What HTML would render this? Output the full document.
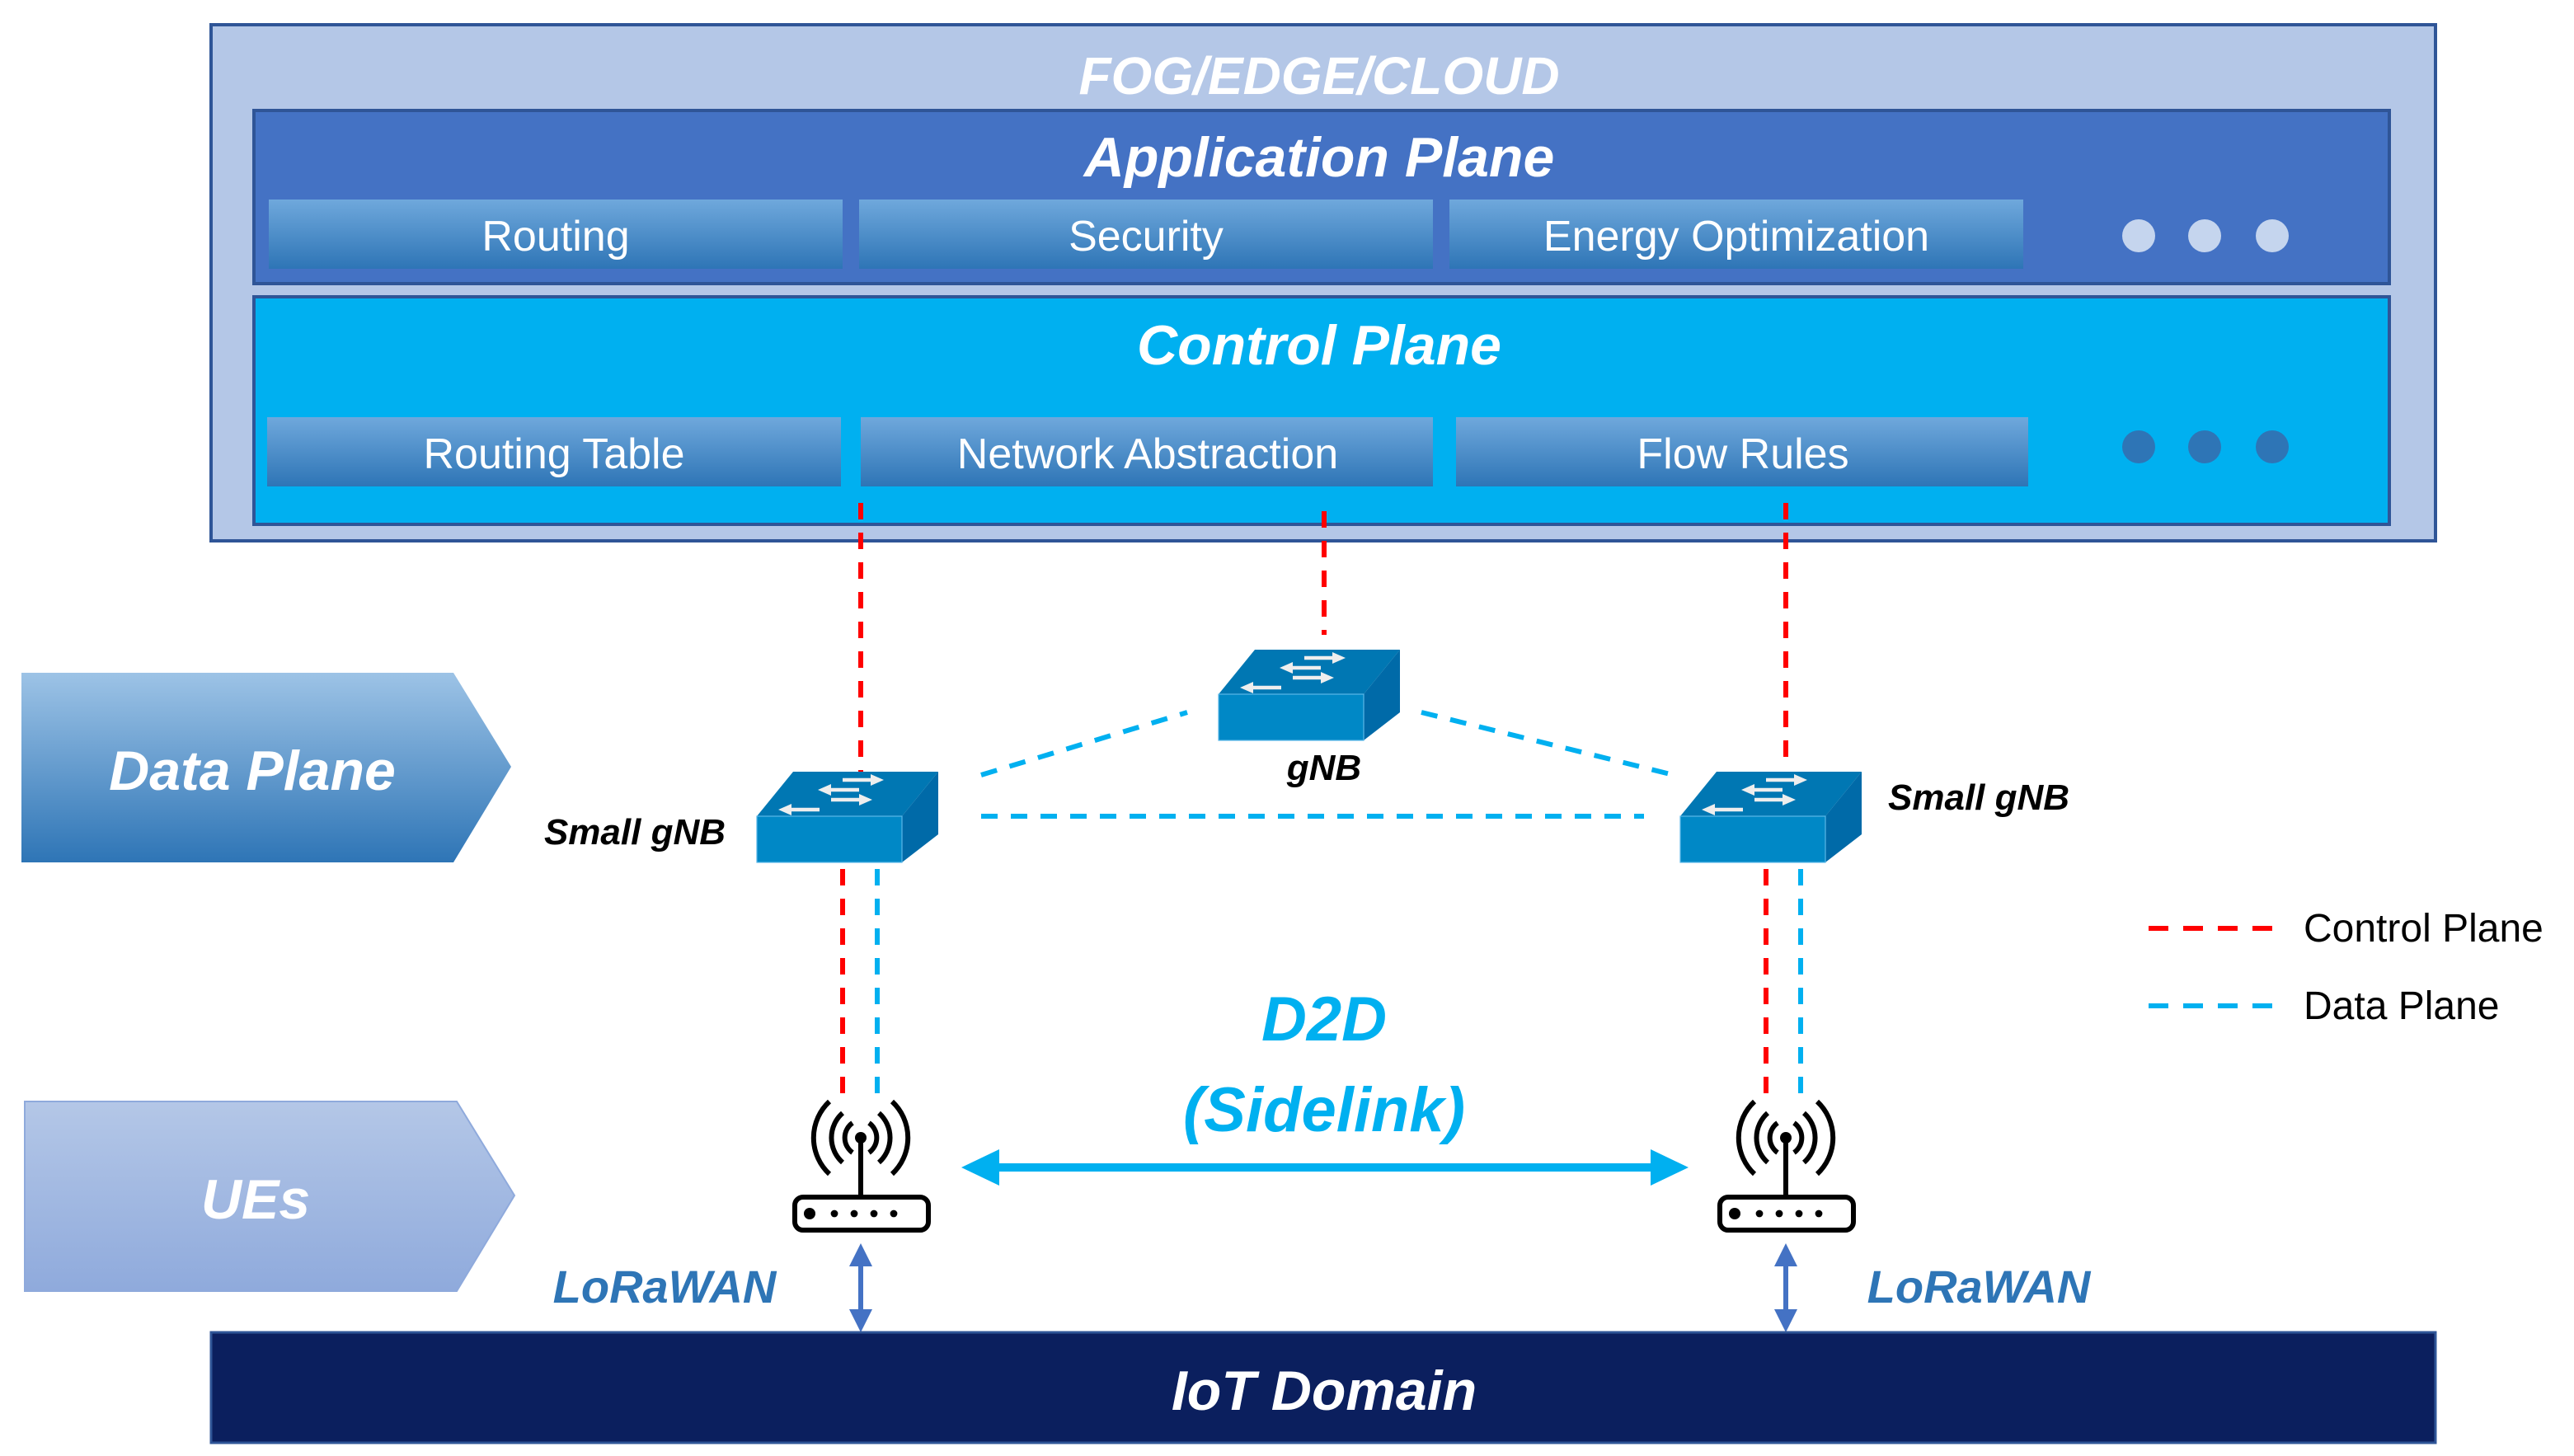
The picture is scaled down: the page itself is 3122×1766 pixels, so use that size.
<!DOCTYPE html>
<html><head><meta charset="utf-8"><style>html,body{margin:0;padding:0;background:#fff}svg{display:block}</style></head>
<body>
<svg width="3122" height="1766" viewBox="0 0 1561 883" xmlns="http://www.w3.org/2000/svg" font-family="Liberation Sans, sans-serif">
<defs>
<linearGradient id="btn" x1="0" y1="0" x2="0" y2="1"><stop offset="0" stop-color="#6fa8dc"/><stop offset="1" stop-color="#2e75b6"/></linearGradient>
<linearGradient id="dp" x1="0" y1="0" x2="0" y2="1"><stop offset="0" stop-color="#9dc3e6"/><stop offset="1" stop-color="#2e75b6"/></linearGradient>
<linearGradient id="ue" x1="0" y1="0" x2="0" y2="1"><stop offset="0" stop-color="#b4c7e7"/><stop offset="1" stop-color="#8faadc"/></linearGradient>
<g id="sw">
<polygon points="0,27 22,0 110,0 88,27" fill="#0077b3"/>
<polygon points="88,27 110,0 110,38 88,55" fill="#006aa8"/>
<rect x="0" y="27" width="88" height="28" fill="#0088c6" stroke="#5bb8e8" stroke-width="0.6"/>
<g stroke="#eee" stroke-width="2.2">
<line x1="52" y1="5" x2="70" y2="5"/><line x1="44" y1="11" x2="62" y2="11"/><line x1="45" y1="17" x2="63" y2="17"/><line x1="20" y1="23" x2="38" y2="23"/>
</g>
<g fill="#eee">
<polygon points="77,5 69,1.5 69,8.5"/><polygon points="37,11 45,7.5 45,14.5"/><polygon points="70,17 62,13.5 62,20.5"/><polygon points="13,23 21,19.5 21,26.5"/>
</g>
</g>
<g id="rt" fill="none" stroke="#000" stroke-width="3">
<circle cx="0" cy="0" r="3.5" fill="#000" stroke="none"/>
<line x1="0" y1="0" x2="0" y2="35"/>
<path d="M-19,-22 a30,30 0 0 0 0,44 M19,-22 a30,30 0 0 1 0,44"/>
<path d="M-11,-15 a20,20 0 0 0 0,30 M11,-15 a20,20 0 0 1 0,30"/>
<path d="M-5,-9 a11,11 0 0 0 0,18 M5,-9 a11,11 0 0 1 0,18"/>
<rect x="-40" y="36" width="81" height="20" rx="5"/>
<g fill="#000" stroke="none"><circle cx="-31" cy="46" r="3.5"/><circle cx="-16" cy="46" r="2.2"/><circle cx="-4" cy="46" r="2.2"/><circle cx="8" cy="46" r="2.2"/><circle cx="20" cy="46" r="2.2"/></g>
</g>
</defs>
<rect x="128" y="15" width="1349" height="313" fill="#b4c7e7" stroke="#2f5597" stroke-width="2"/>
<text x="800" y="57" text-anchor="middle" font-size="32" font-weight="bold" font-style="italic" fill="#fff">FOG/EDGE/CLOUD</text>
<rect x="154" y="67" width="1295" height="105" fill="#4472c4" stroke="#2f5597" stroke-width="2"/>
<text x="800" y="107" text-anchor="middle" font-size="34" font-weight="bold" font-style="italic" fill="#fff">Application Plane</text>
<g font-size="26" fill="#fff" text-anchor="middle">
<rect x="163" y="121" width="348" height="42" fill="url(#btn)"/><text x="337" y="152">Routing</text>
<rect x="521" y="121" width="348" height="42" fill="url(#btn)"/><text x="695" y="152">Security</text>
<rect x="879" y="121" width="348" height="42" fill="url(#btn)"/><text x="1053" y="152">Energy Optimization</text>
</g>
<g fill="#c5d5ee"><circle cx="1297" cy="143" r="10"/><circle cx="1337" cy="143" r="10"/><circle cx="1378" cy="143" r="10"/></g>
<rect x="154" y="180" width="1295" height="138" fill="#00b0f0" stroke="#2f5597" stroke-width="2"/>
<text x="800" y="221" text-anchor="middle" font-size="34" font-weight="bold" font-style="italic" fill="#fff">Control Plane</text>
<g font-size="26" fill="#fff" text-anchor="middle">
<rect x="162" y="253" width="348" height="42" fill="url(#btn)"/><text x="336" y="284">Routing Table</text>
<rect x="522" y="253" width="347" height="42" fill="url(#btn)"/><text x="696" y="284">Network Abstraction</text>
<rect x="883" y="253" width="347" height="42" fill="url(#btn)"/><text x="1057" y="284">Flow Rules</text>
</g>
<g fill="#2e75b6"><circle cx="1297" cy="271" r="10"/><circle cx="1337" cy="271" r="10"/><circle cx="1378" cy="271" r="10"/></g>
<g stroke="#ff0000" stroke-width="3" stroke-dasharray="10,8">
<line x1="522" y1="305" x2="522" y2="468"/><line x1="803" y1="310" x2="803" y2="385"/><line x1="1083" y1="305" x2="1083" y2="466"/>
<line x1="511" y1="527" x2="511" y2="665"/><line x1="1071" y1="527" x2="1071" y2="665"/>
</g>
<g stroke="#00b0f0" stroke-width="3" stroke-dasharray="10,8">
<line x1="595" y1="470" x2="720" y2="432"/><line x1="862" y1="432" x2="1015" y2="470"/><line x1="595" y1="495" x2="997" y2="495"/>
<line x1="532" y1="527" x2="532" y2="665"/><line x1="1092" y1="527" x2="1092" y2="665"/>
</g>
<use href="#sw" x="459" y="468"/><use href="#sw" x="739" y="394"/><use href="#sw" x="1019" y="468"/>
<g font-size="22" font-weight="bold" font-style="italic" fill="#000">
<text x="440" y="512" text-anchor="end">Small gNB</text>
<text x="803" y="473" text-anchor="middle">gNB</text>
<text x="1145" y="491">Small gNB</text>
</g>
<polygon points="13,408 275,408 310,465 275,523 13,523" fill="url(#dp)"/>
<text x="153" y="479" text-anchor="middle" font-size="34" font-weight="bold" font-style="italic" fill="#fff">Data Plane</text>
<polygon points="15,668 277,668 312,725 277,783 15,783" fill="url(#ue)" stroke="#8faadc"/>
<text x="155" y="739" text-anchor="middle" font-size="34" font-weight="bold" font-style="italic" fill="#fff">UEs</text>
<use href="#rt" x="522" y="690"/><use href="#rt" x="1083" y="690"/>
<g font-size="38" font-weight="bold" font-style="italic" fill="#00b0f0" text-anchor="middle">
<text x="803" y="631">D2D</text><text x="803" y="686">(Sidelink)</text></g>
<line x1="600" y1="708" x2="1007" y2="708" stroke="#00b0f0" stroke-width="5"/>
<polygon points="583,708 606,697 606,719" fill="#00b0f0"/><polygon points="1024,708 1001,697 1001,719" fill="#00b0f0"/>
<g stroke="#4472c4" stroke-width="3"><line x1="522" y1="765" x2="522" y2="797"/><line x1="1083" y1="765" x2="1083" y2="797"/></g>
<g fill="#4472c4"><polygon points="522,754 515,768 529,768"/><polygon points="522,808 515,794 529,794"/><polygon points="1083,754 1076,768 1090,768"/><polygon points="1083,808 1076,794 1090,794"/></g>
<g font-size="28" font-weight="bold" font-style="italic" fill="#2e75b6" text-anchor="middle">
<text x="403" y="790">LoRaWAN</text><text x="1200" y="790">LoRaWAN</text></g>
<rect x="128" y="808" width="1349" height="67" fill="#0b1f5e" stroke="#2f5597" stroke-width="1.5"/>
<text x="803" y="855" text-anchor="middle" font-size="34" font-weight="bold" font-style="italic" fill="#fff">IoT Domain</text>
<line x1="1303" y1="563" x2="1385" y2="563" stroke="#ff0000" stroke-width="3" stroke-dasharray="12,9"/>
<line x1="1303" y1="610" x2="1385" y2="610" stroke="#00b0f0" stroke-width="3" stroke-dasharray="12,9"/>
<g font-size="24" fill="#000"><text x="1397" y="571">Control Plane</text><text x="1397" y="618">Data Plane</text></g>
</svg>
</body></html>
